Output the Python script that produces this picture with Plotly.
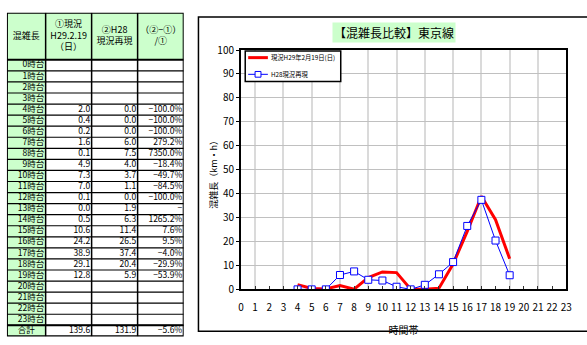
import plotly.graph_objects as go

# Congestion length (km·h) by hour band, Tokyo line
hours = list(range(4, 20))
actual_h29 = [2.0, 0.4, 0.2, 1.6, 0.1, 4.9, 7.3, 7.0, 0.1, 0.0, 0.5, 10.6, 24.2, 38.9, 29.1, 12.8]
repro_h28 = [0.0, 0.0, 0.0, 6.0, 7.5, 4.0, 3.7, 1.1, 0.0, 1.9, 6.3, 11.4, 26.5, 37.4, 20.4, 5.9]
ratio_text = ["−100.0%", "−100.0%", "−100.0%", "279.2%", "7350.0%", "−18.4%", "−49.7%", "−84.5%",
              "−100.0%", "−", "1265.2%", "7.6%", "9.5%", "−4.0%", "−29.9%", "−53.9%"]
total_actual = "139.6"
total_repro = "131.9"
total_ratio = "−5.6%"

header_labels = ["混雑長", "①現況<br>H29.2.19<br>（日）", "②H28<br>現況再現", "（②−①）<br>/①"]
row_labels = [f"{h}時台" for h in range(24)]
total_label = "合計"
x_ticks = list(range(0, 24))
legend_names = ["現況H29年2月19日(日)", "H28現況再現"]

W, H = 587, 345
GREEN = "#ccffcc"
RED = "#ff0000"
BLUE = "#0000ff"
NUM_FONT = "Liberation Sans Narrow, Arial Narrow, Noto Sans CJK JP, sans-serif"
JP_FONT = "Noto Sans CJK JP, sans-serif"

# table geometry in its own axis units (pixels inside the table box)
col_edges = [0, 39.3, 86.0, 132.7, 179.5]
header_h = 49.3
row_h = 11.6
n_rows = 25
table_h = header_h + n_rows * row_h


def px_x(v):
    return v / W


def px_y(v):
    return 1 - v / H


# table columns built from the hourly values
col_a, col_b, col_r = [], [], []
for h in range(24):
    if h in hours:
        i = hours.index(h)
        col_a.append(f"{actual_h29[i]:.1f}")
        col_b.append(f"{repro_h28[i]:.1f}")
        col_r.append(ratio_text[i])
    else:
        col_a.append("")
        col_b.append("")
        col_r.append("")
col_a.append(total_actual)
col_b.append(total_repro)
col_r.append(total_ratio)

row_centers = [header_h + (k + 0.5) * row_h for k in range(n_rows)]

fig = go.Figure()

# ---- table (drawn on x2/y2) ----
head_font = dict(family=NUM_FONT, size=9, color="black")
cell_font = dict(family=NUM_FONT, size=8.5, color="black")
fig.add_trace(go.Scatter(
    x=[(col_edges[c] + col_edges[c + 1]) / 2 for c in range(4)],
    y=[header_h / 2] * 4, text=header_labels, mode="text",
    textposition="middle center", textfont=head_font,
    xaxis="x2", yaxis="y2", showlegend=False, hoverinfo="skip",
))
fig.add_trace(go.Scatter(
    x=[col_edges[1] - 1.5] * 24, y=row_centers[:24], text=row_labels, mode="text",
    textposition="middle left", textfont=cell_font,
    xaxis="x2", yaxis="y2", showlegend=False, hoverinfo="skip",
))
fig.add_trace(go.Scatter(
    x=[(col_edges[0] + col_edges[1]) / 2], y=[row_centers[24]], text=[total_label], mode="text",
    textposition="middle center", textfont=cell_font,
    xaxis="x2", yaxis="y2", showlegend=False, hoverinfo="skip",
))
for c, col in enumerate([col_a, col_b, col_r], start=2):
    fig.add_trace(go.Scatter(
        x=[col_edges[c] - 1.5] * n_rows, y=row_centers, text=col, mode="text",
        textposition="middle left", textfont=cell_font,
        xaxis="x2", yaxis="y2", showlegend=False, hoverinfo="skip",
    ))

# ---- line chart ----
fig.add_trace(go.Scatter(
    x=hours, y=actual_h29, mode="lines", name=legend_names[0],
    line=dict(color=RED, width=3), showlegend=False,
))
fig.add_trace(go.Scatter(
    x=hours, y=repro_h28, mode="lines+markers", name=legend_names[1],
    line=dict(color=BLUE, width=1), showlegend=False,
    marker=dict(symbol="square", size=7, color="white", line=dict(color=BLUE, width=1)),
))

shapes = []
# table fills
shapes.append(dict(type="rect", xref="x2", yref="y2", x0=col_edges[0], x1=col_edges[4],
                   y0=0, y1=header_h, fillcolor=GREEN, line=dict(width=0), layer="below"))
shapes.append(dict(type="rect", xref="x2", yref="y2", x0=col_edges[0], x1=col_edges[1],
                   y0=header_h, y1=table_h, fillcolor=GREEN, line=dict(width=0), layer="below"))
# table row separators
for k in range(1, n_rows):
    y = header_h + k * row_h
    shapes.append(dict(type="line", xref="x2", yref="y2", x0=col_edges[0], x1=col_edges[4],
                       y0=y, y1=y, line=dict(color="black", width=1.2), layer="below"))
# column separators
for xe in col_edges[1:4]:
    shapes.append(dict(type="line", xref="x2", yref="y2", x0=xe, x1=xe, y0=0, y1=table_h,
                       line=dict(color="black", width=1.5)))
# heavier outline, header and total rules
shapes.append(dict(type="rect", xref="x2", yref="y2", x0=col_edges[0], x1=col_edges[4],
                   y0=0, y1=table_h, line=dict(color="black", width=2)))
for y in (header_h, header_h + 24 * row_h):
    shapes.append(dict(type="line", xref="x2", yref="y2", x0=col_edges[0], x1=col_edges[4],
                       y0=y, y1=y, line=dict(color="black", width=2)))

# chart frame
shapes.append(dict(type="rect", xref="paper", yref="paper",
                   x0=px_x(198.5), x1=1.02, y0=px_y(338), y1=px_y(8.5),
                   line=dict(color="black", width=1.5)))

# legend box with samples
lg_x0, lg_x1, lg_y0, lg_y1 = 246, 343, 44, 76
shapes.append(dict(type="rect", xref="paper", yref="paper",
                   x0=px_x(lg_x0), x1=px_x(lg_x1), y0=px_y(lg_y1), y1=px_y(lg_y0),
                   fillcolor="white", line=dict(color="black", width=1.5)))
shapes.append(dict(type="line", xref="paper", yref="paper",
                   x0=px_x(249), x1=px_x(269), y0=px_y(51), y1=px_y(51),
                   line=dict(color=RED, width=3)))
shapes.append(dict(type="line", xref="paper", yref="paper",
                   x0=px_x(249), x1=px_x(269), y0=px_y(68.5), y1=px_y(68.5),
                   line=dict(color=BLUE, width=1)))
shapes.append(dict(type="rect", xref="paper", yref="paper",
                   x0=px_x(256), x1=px_x(262), y0=px_y(71.5), y1=px_y(65.5),
                   fillcolor="white", line=dict(color=BLUE, width=1)))

annotations = [
    dict(text="【混雑長比較】東京線", xref="paper", yref="paper",
         x=px_x(397), y=px_y(25), xanchor="center", yanchor="middle",
         showarrow=False, bgcolor=GREEN,
         font=dict(family=JP_FONT, size=12, color="black")),
    dict(text=legend_names[0], xref="paper", yref="paper",
         x=px_x(270), y=px_y(51), xanchor="left", yanchor="middle", showarrow=False,
         font=dict(family=JP_FONT, size=6.3, color="black")),
    dict(text=legend_names[1], xref="paper", yref="paper",
         x=px_x(270), y=px_y(68.5), xanchor="left", yanchor="middle", showarrow=False,
         font=dict(family=JP_FONT, size=6.3, color="black")),
    dict(text="混雑長（km・h）", xref="paper", yref="paper",
         x=px_x(213), y=px_y(171), xanchor="center", yanchor="middle", showarrow=False,
         textangle=-90, font=dict(family=JP_FONT, size=9, color="black")),
]

fig.update_layout(
    width=W, height=H,
    margin=dict(l=0, r=0, t=0, b=0),
    paper_bgcolor="white", plot_bgcolor="white",
    font=dict(family=NUM_FONT, size=10, color="black"),
    showlegend=False,
    xaxis=dict(
        domain=[px_x(241.7), px_x(572)], range=[0, 23],
        tickmode="array", tickvals=x_ticks,
        showgrid=False,
        minor=dict(tick0=1, dtick=2, showgrid=True, gridcolor="#dadada", gridwidth=2, ticks=""),
        showline=True, linecolor="black", linewidth=2, mirror=True,
        ticks="inside", ticklen=3, tickcolor="#333333",
        ticklabelstandoff=8,
        tickfont=dict(family=NUM_FONT, size=10),
        title=dict(text="時間帯", font=dict(family=JP_FONT, size=10), standoff=14),
        zeroline=False,
    ),
    # even-hour gridlines are a shade darker than the odd ones
    xaxis3=dict(
        overlaying="x", anchor="y", range=[0, 23], tick0=0, dtick=2,
        showgrid=True, gridcolor="#b8b8b8", gridwidth=1,
        showticklabels=False, ticks="", showline=False, zeroline=False,
        matches="x",
    ),
    yaxis=dict(
        domain=[px_y(294), px_y(43)], range=[0, 100],
        tickmode="linear", tick0=0, dtick=10,
        showgrid=True, gridcolor="#c0c0c0", gridwidth=1,
        showline=True, linecolor="black", linewidth=2, mirror=True,
        ticks="outside", ticklen=3, tickcolor="black",
        tickfont=dict(family=NUM_FONT, size=10),
        zeroline=False,
    ),
    xaxis2=dict(domain=[px_x(4), px_x(4 + col_edges[4])], range=[0, col_edges[4]],
                visible=False, anchor="y2", fixedrange=True),
    yaxis2=dict(domain=[px_y(4 + table_h), px_y(4)], range=[table_h, 0],
                visible=False, anchor="x2", fixedrange=True),
    annotations=annotations,
    shapes=shapes,
)

fig.write_html("out.html")
